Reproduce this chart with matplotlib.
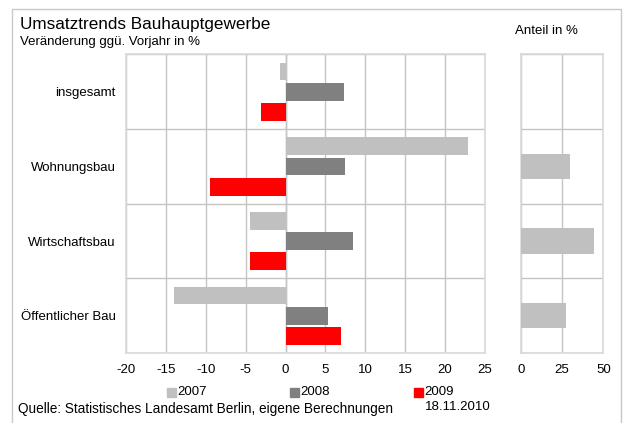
import numpy as np
import matplotlib
matplotlib.use("Agg")
import matplotlib.pyplot as plt
from matplotlib.patches import Rectangle

plt.rcParams['font.family'] = ['Liberation Sans', 'DejaVu Sans']

# Data
categories = ["insgesamt", "Wohnungsbau", "Wirtschaftsbau", "Öffentlicher Bau"]
years = ["2007", "2008", "2009"]
change_2007 = [-0.7, 22.9, -4.4, -14.0]
change_2008 = [7.3, 7.4, 8.4, 5.3]
change_2009 = [-3.1, -9.5, -4.5, 6.9]
share = [np.nan, 30.0, 44.3, 27.3]
main_ticks = [-20, -15, -10, -5, 0, 5, 10, 15, 20, 25]
share_ticks = [0, 25, 50]

colors = ["#c0c0c0", "#808080", "#ff0000"]
grid_c = "#c4c4c4"
frame_c = "#d9d9d9"

W, H = 623, 423
fig = plt.figure(figsize=(W / 100, H / 100), dpi=100)

def fx(px):
    return px / W

def fy(py):
    return 1 - py / H

# outer frame
fig.patches.append(Rectangle((fx(11.5), fy(440)), fx(620.5) - fx(11.5), fy(8.5) - fy(440),
                             transform=fig.transFigure, fill=False,
                             edgecolor="#c8c8c8", linewidth=1.0))

# Main chart
ax = fig.add_axes([fx(126), fy(353), fx(485) - fx(126), fy(54.5) - fy(353)])
y = np.arange(len(categories))
offs = [-0.272, 0.0, 0.272]
h = 0.238
for vals, off, c in zip([change_2007, change_2008, change_2009], offs, colors):
    ax.barh(y + off, vals, height=h, color=c, zorder=3)
ax.set_xlim(-20, 25)
ax.set_ylim(len(categories) - 0.5, -0.5)
ax.set_xticks(main_ticks)
ax.set_xticklabels([str(t) for t in main_ticks], fontsize=9.5)
ax.set_yticks(y)
ax.set_yticklabels(categories, fontsize=9.5)
ax.set_yticks(np.arange(len(categories) + 1) - 0.5, minor=True)
ax.tick_params(axis='both', which='both', length=0)
ax.tick_params(axis='x', pad=8)
ax.tick_params(axis='y', pad=7.5)
ax.grid(axis='x', which='major', color=grid_c, linewidth=1.0, zorder=0)
ax.grid(axis='y', which='minor', color=grid_c, linewidth=1.0, zorder=0)
ax.axvline(0, color=grid_c, linewidth=1.0, zorder=0)
for s in ax.spines.values():
    s.set_color(frame_c)
    s.set_linewidth(1.2)

# Share panel
ax2 = fig.add_axes([fx(521), fy(353), fx(603.3) - fx(521), fy(54.5) - fy(353)])
for yi, v in zip(y, share):
    if not np.isnan(v):
        ax2.barh(yi, v, height=0.34, color=colors[0], zorder=3)
ax2.set_xlim(0, 50)
ax2.set_ylim(len(categories) - 0.5, -0.5)
ax2.set_xticks(share_ticks)
ax2.set_xticklabels([str(t) for t in share_ticks], fontsize=9.5)
ax2.set_yticks([])
ax2.set_yticks(np.arange(len(categories) + 1) - 0.5, minor=True)
ax2.tick_params(axis='both', which='both', length=0)
ax2.tick_params(axis='x', pad=8)
ax2.grid(axis='x', which='major', color=grid_c, linewidth=1.0, zorder=0)
ax2.grid(axis='y', which='minor', color=grid_c, linewidth=1.0, zorder=0)
for s in ax2.spines.values():
    s.set_color(frame_c)
    s.set_linewidth(1.2)

# Titles
fig.text(fx(20), fy(25), "Umsatztrends Bauhauptgewerbe", fontsize=12.3, va='center', ha='left')
fig.text(fx(20), fy(42.5), "Veränderung ggü. Vorjahr in %", fontsize=9.5, va='center', ha='left')
fig.text(fx(546), fy(31), "Anteil in %", fontsize=9.5, va='center', ha='center')

# Legend
leg_x = [167, 290, 414]
for lx, c, lab in zip(leg_x, colors, years):
    fig.patches.append(Rectangle((fx(lx), fy(396.5)), fx(9) - fx(0), fy(387.5) - fy(396.5),
                                 transform=fig.transFigure, color=c))
    fig.text(fx(lx + 10), fy(392), lab, fontsize=9.5, va='center', ha='left')

fig.text(fx(18), fy(408.5), "Quelle: Statistisches Landesamt Berlin, eigene Berechnungen",
         fontsize=9.8, va='center', ha='left')
fig.text(fx(425), fy(407), "18.11.2010", fontsize=9.5, va='center', ha='left')

fig.savefig("out.png", dpi=100)
